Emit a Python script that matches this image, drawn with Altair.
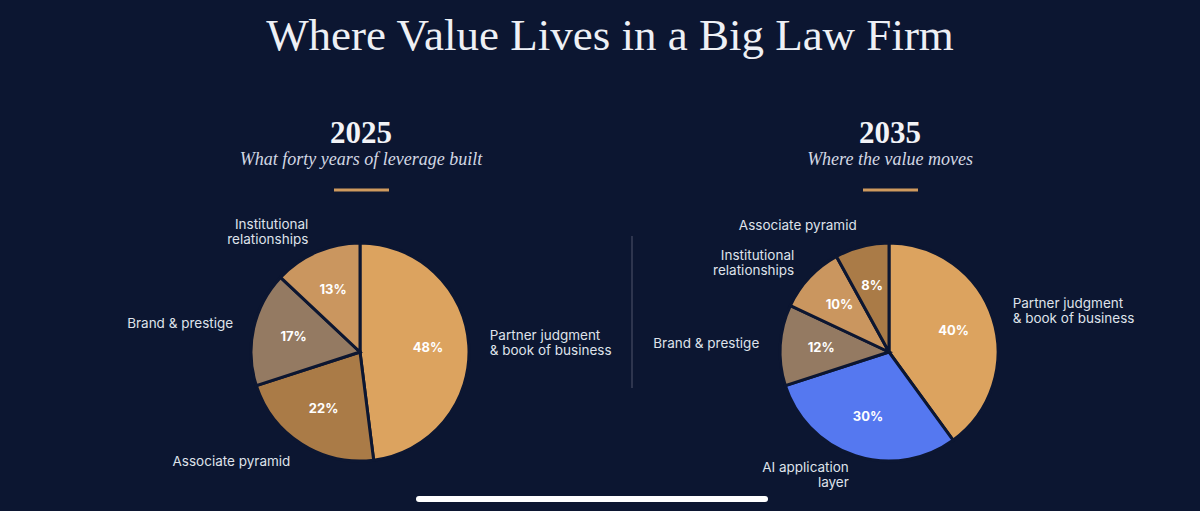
import altair as alt
import pandas as pd

# ---- data -------------------------------------------------------------
TITLE = "Where Value Lives in a Big Law Firm"
YEARS = ["2025", "2035"]
SUBTITLES = ["What forty years of leverage built", "Where the value moves"]

LEFT_CATEGORIES = [
    "Partner judgment\n& book of business",
    "Associate pyramid",
    "Brand & prestige",
    "Institutional\nrelationships",
]
LEFT_SHARES = [48, 22, 17, 13]

RIGHT_CATEGORIES = [
    "Partner judgment\n& book of business",
    "AI application\nlayer",
    "Brand & prestige",
    "Institutional\nrelationships",
    "Associate pyramid",
]
RIGHT_SHARES = [40, 30, 12, 10, 8]

PALETTE_DOMAIN = [
    "Partner judgment\n& book of business",
    "Associate pyramid",
    "Brand & prestige",
    "Institutional\nrelationships",
    "AI application\nlayer",
]
PALETTE_RANGE = ["#dca35f", "#aa7b47", "#947a62", "#ca965f", "#5578f0"]

# ---- styling ----------------------------------------------------------
BG = "#0c1631"
TEXT = "#dfe2ea"
GOLD = "#cf9a5e"
SANS = "Inter"
SERIF = "Liberation Serif"
RADIUS = 109
LABEL_RADIUS = 130
PCT_RADIUS = 68
LINE_HEIGHT = 15

color_scale = alt.Scale(domain=PALETTE_DOMAIN, range=PALETTE_RANGE)
theta_scale = alt.Scale(domain=[0, 100])


def frame(categories, shares):
    return pd.DataFrame(
        {"category": categories, "share": shares, "order": list(range(len(shares)))}
    )


def pie(categories, shares, cx, cy):
    base = (
        alt.Chart(frame(categories, shares))
        .transform_window(cum="sum(share)", sort=[alt.SortField("order")], frame=[None, 0])
        .transform_calculate(
            start="datum.cum - datum.share",
            mid="datum.cum - datum.share / 2",
            pct="datum.share + '%'",
            lines="split(datum.category, '\\n').length",
        )
    )
    pos = dict(x=alt.value(cx), y=alt.value(cy))

    arcs = base.mark_arc(radius=RADIUS, stroke=BG, strokeWidth=3).encode(
        theta=alt.Theta("start:Q", scale=theta_scale),
        theta2="cum:Q",
        color=alt.Color("category:N", scale=color_scale, legend=None),
        **pos,
    )
    pct = base.mark_text(
        radius=PCT_RADIUS, font=SANS, fontSize=13, fontWeight="bold", color="#ffffff",
        align="center", baseline="middle",
    ).encode(theta=alt.Theta("mid:Q", scale=theta_scale), text="pct:N", **pos)

    # outside labels: anchored on the slice's mid-angle, aligned away from the pie,
    # and shifted up so a two-line label is centred on its anchor
    outer = []
    for side_test, align in (("datum.mid <= 50", "left"), ("datum.mid > 50", "right")):
        for n in (1, 2):
            outer.append(
                base.transform_filter(f"{side_test} && datum.lines == {n}")
                .mark_text(
                    align=align, radius=LABEL_RADIUS, font=SANS, fontSize=13.5,
                    color=TEXT, baseline="middle", lineBreak="\n",
                    lineHeight=LINE_HEIGHT, dy=-(n - 1) * LINE_HEIGHT / 2,
                )
                .encode(theta=alt.Theta("mid:Q", scale=theta_scale), text="category:N", **pos)
            )
    return [arcs, pct] + outer


def header(i, cx):
    one = pd.DataFrame({"year": [YEARS[i]], "sub": [SUBTITLES[i]]})
    year = alt.Chart(one).mark_text(
        font=SERIF, fontSize=31, fontWeight="bold", color="#f2f3f7",
        align="center", baseline="alphabetic",
    ).encode(text="year:N", x=alt.value(cx), y=alt.value(143))
    sub = alt.Chart(one).mark_text(
        font=SERIF, fontSize=18, fontStyle="italic", color="#d3d8e4",
        align="center", baseline="alphabetic",
    ).encode(text="sub:N", x=alt.value(cx), y=alt.value(165))
    rule = alt.Chart(one).mark_rule(color=GOLD, strokeWidth=3).encode(
        x=alt.value(cx - 27), x2=alt.value(cx + 28), y=alt.value(190)
    )
    return [year, sub, rule]


title = alt.Chart(pd.DataFrame({"t": [TITLE]})).mark_text(
    font=SERIF, fontSize=45, color="#eef0f5", align="center", baseline="alphabetic"
).encode(text="t:N", x=alt.value(610), y=alt.value(50))

divider = alt.Chart(pd.DataFrame({"t": [0]})).mark_rule(
    color="#3a4058", strokeWidth=1.5
).encode(x=alt.value(632), y=alt.value(236), y2=alt.value(388))

home_bar = alt.Chart(pd.DataFrame({"t": [0]})).mark_rule(
    color="#ffffff", strokeWidth=6, strokeCap="round"
).encode(x=alt.value(419), x2=alt.value(765), y=alt.value(499))

layers = (
    [title]
    + header(0, 361)
    + header(1, 890)
    + [divider]
    + pie(LEFT_CATEGORIES, LEFT_SHARES, 360, 352)
    + pie(RIGHT_CATEGORIES, RIGHT_SHARES, 889, 352)
    + [home_bar]
)

chart = (
    alt.layer(*layers)
    .properties(width=1200, height=511, background=BG, padding=0, autosize="none")
    .configure_view(strokeWidth=0)
)

chart.save("out.html", embed_options={"renderer": "svg", "actions": False})
